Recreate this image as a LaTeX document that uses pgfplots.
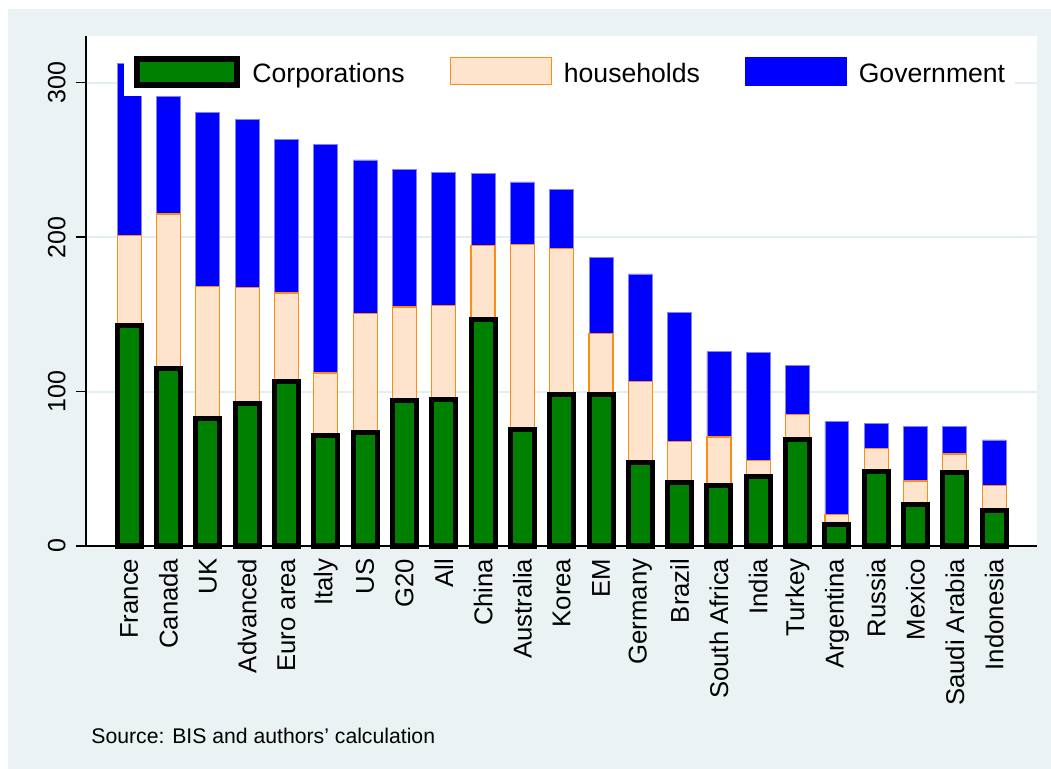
\documentclass[border=0pt]{standalone}
\usepackage{fontspec}
\setmainfont{Liberation Sans}
\usepackage{pgfplots}
\usepackage{pgfplotstable}
\pgfplotsset{compat=1.18}

\definecolor{bggray}{RGB}{234,242,243}
\definecolor{gridc}{RGB}{228,237,240}
\definecolor{corpgreen}{RGB}{0,128,0}
\definecolor{peach}{RGB}{255,228,205}
\definecolor{peachline}{RGB}{255,140,20}
\definecolor{govblue}{RGB}{0,0,255}
\definecolor{govline}{RGB}{130,130,255}

\pgfplotstableread{
x corp hh gov
0 143 58 111.6
1 115 100 76
2 82.7 85.5 112.7
3 92.4 75.1 109
4 106.4 57.5 99.3
5 71.5 40.5 148
6 73.4 77.3 99.3
7 94.1 60.7 89.2
8 95 61 86
9 146.8 47.9 46.6
10 75.6 119.8 40.4
11 98.2 94.4 38.6
12 98.2 39.5 49.3
13 54 52.4 69.8
14 41 26.8 83.6
15 38.9 31.7 55.2
16 44.9 10.4 69.9
17 68.7 16.6 31.9
18 14.2 6.1 60.2
19 48.1 15.2 16.1
20 26.6 15.5 35.6
21 47.5 12.1 17.7
22 22.7 16.4 29.6
}\datatable

\pgfplotsset{myaxis/.style={scale only axis, width=475.5bp, height=255bp,
  xmin=-1.10, xmax=23.09, ymin=0, ymax=330.3,
  at={(43bp,111.5bp)}, anchor=south west, clip=false}}

\begin{document}
\begin{tikzpicture}
\path[use as bounding box] (0,0) rectangle (525.5bp,384.5bp);
\fill[bggray] (4bp,0) rectangle (525.5bp,380bp);
\begin{axis}[myaxis, ybar stacked, bar width=0.61,
  axis background/.style={fill=white},
  axis x line=bottom, axis y line=left,
  axis line style={-, line width=0.7bp, black},
  xtick={0,...,22},
  xticklabels={France,Canada,UK,Advanced,Euro area,Italy,US,G20,All,China,Australia,Korea,EM,Germany,Brazil,South Africa,India,Turkey,Argentina,Russia,Mexico,Saudi Arabia,Indonesia},
  x tick style={draw=none},
  xticklabel style={font=\fontsize{12.85bp}{15bp}\selectfont, rotate=90, anchor=east, inner sep=0pt},
  xticklabel shift=1.2bp,
  ytick={0,100,200,300},
  y tick style={black, line width=0.7bp},
  tick align=outside, major tick length=5bp,
  yticklabel style={font=\fontsize{12.5bp}{15bp}\selectfont, rotate=90, anchor=south, inner sep=0pt},
  yticklabel shift=5bp,
  /pgf/number format/assume math mode=true,
  ymajorgrids, grid style={gridc, line width=1bp},
  legend columns=3,
  legend style={at={(0.04,0.882)}, anchor=south west, draw=none, fill=white,
    inner xsep=5bp, inner ysep=0bp,
    font=\fontsize{13.3bp}{16bp}\selectfont,
    /tikz/every odd column/.append style={column sep=6bp},
    /tikz/every even column/.append style={column sep=22.5bp},
    nodes={inner sep=0pt, anchor=base west}},
]
\addplot[fill=corpgreen, draw=black, line width=2.5bp,
  legend image code/.code={\path[draw=none, fill=none] (0bp,-6.5bp) rectangle (0.01bp,14bp);
    \draw[fill=corpgreen, draw=black, line width=3bp] (1.5bp,-1bp) rectangle (51.5bp,12bp);}]
  table[x=x, y=corp] {\datatable};
\addlegendentry{Corporations}
\addplot[fill=peach, draw=peachline, line width=0.6bp,
  legend image code/.code={\path[draw=none, fill=none] (0bp,-6.5bp) rectangle (0.01bp,14bp);
    \draw[fill=peach, draw=peachline, line width=0.6bp] (0bp,-1bp) rectangle (50.5bp,12.5bp);}]
  table[x=x, y=hh] {\datatable};
\addlegendentry{households}
\addplot[fill=govblue, draw=govline, line width=0.4bp,
  legend image code/.code={\path[draw=none, fill=none] (0bp,-6.5bp) rectangle (0.01bp,14bp);
    \draw[fill=govblue, draw=govblue, line width=0.4bp] (0bp,-1.2bp) rectangle (50.5bp,12.5bp);}]
  table[x=x, y=gov] {\datatable};
\addlegendentry{Government}
\end{axis}
\begin{axis}[myaxis, ybar, bar width=0.61, bar shift=0pt, hide axis]
\addplot[fill=corpgreen, draw=black, line width=2.5bp] table[x=x, y=corp] {\datatable};
\end{axis}
\node[anchor=base west, font=\fontsize{10.6bp}{13bp}\selectfont, inner sep=0pt] at (45.5bp,13bp) {Source: BIS and authors’ calculation};
\end{tikzpicture}
\end{document}
